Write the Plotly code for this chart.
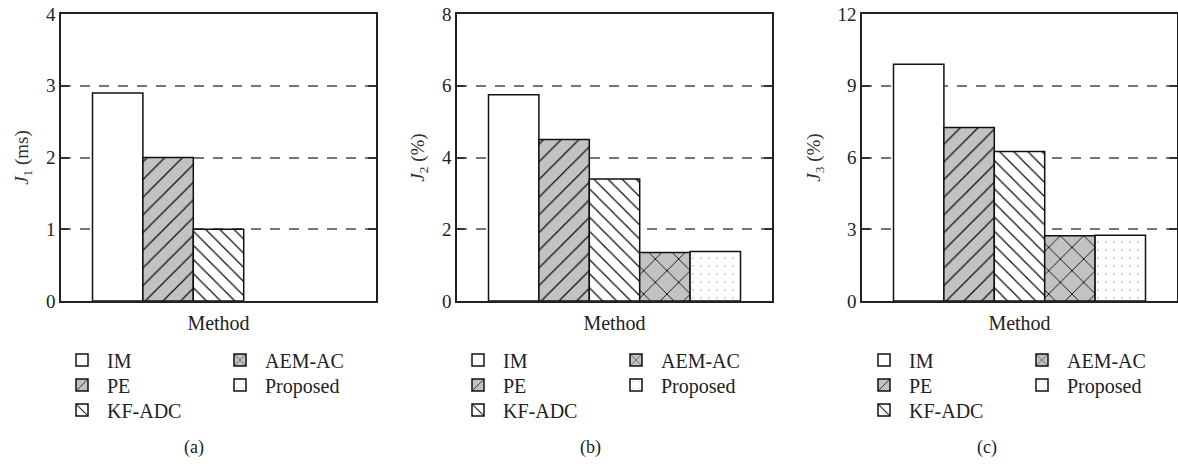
import plotly.graph_objects as go

methods = ["IM", "PE", "KF-ADC", "AEM-AC", "Proposed"]
j1_ms = [2.9, 2.0, 1.0, None, None]
j2_pct = [5.75, 4.5, 3.4, 1.35, 1.38]
j3_pct = [9.9, 7.25, 6.25, 2.73, 2.75]
category = ["Method"]

panels = [
    dict(vals=j1_ms, ytitle="<i>J</i><sub>1</sub> (ms)", yrange=[0, 4], dtick=1, caption="(a)"),
    dict(vals=j2_pct, ytitle="<i>J</i><sub>2</sub> (%)", yrange=[0, 8], dtick=2, caption="(b)"),
    dict(vals=j3_pct, ytitle="<i>J</i><sub>3</sub> (%)", yrange=[0, 12], dtick=3, caption="(c)"),
]

GRAY = "#c2c2c2"
styles = {
    "IM": dict(color="white", pattern=dict(shape="")),
    "PE": dict(color=GRAY, pattern=dict(shape="/", size=12.5, solidity=0.1, fgcolor="#111", bgcolor=GRAY, fillmode="replace")),
    "KF-ADC": dict(color="white", pattern=dict(shape="\\", size=10, solidity=0.13, fgcolor="#111", bgcolor="white", fillmode="replace")),
    "AEM-AC": dict(color=GRAY, pattern=dict(shape="x", size=16.5, solidity=0.1, fgcolor="#000", bgcolor=GRAY, fillmode="replace")),
    "Proposed": dict(color="white", pattern=dict(shape=".", size=8, solidity=0.025, fgcolor="#999", bgcolor="white", fillmode="replace")),
}
# legend grid cell (column, row) of each method
legend_cell = {"IM": (0, 0), "PE": (0, 1), "KF-ADC": (0, 2), "AEM-AC": (1, 0), "Proposed": (1, 1)}

W, H = 1178, 466
x_domains_px = [(61, 376), (457, 772), (862, 1177)]
y_dom = [(H - 301) / H, (H - 14) / H]
legend_x_px = [(57, 215), (453, 611), (859, 1017)]
legend_row_px = [360, 385, 410]
caption_x_px = [194, 590, 987]

fig = go.Figure()
font_family = "Liberation Serif"
k = 0
for i, p in enumerate(panels):
    xa = "x" if i == 0 else f"x{i+1}"
    ya = "y" if i == 0 else f"y{i+1}"
    for m, v in zip(methods, p["vals"]):
        st = styles[m]
        lg = "legend" if k == 0 else f"legend{k+1}"
        k += 1
        fig.add_trace(go.Bar(
            x=category, y=[v], name=m, xaxis=xa, yaxis=ya, legend=lg,
            marker=dict(color=st["color"], pattern=st["pattern"], line=dict(color="#111", width=1.5)),
            hoverinfo="name+y",
        ))
        col, row = legend_cell[m]
        fig.layout[lg] = dict(
            x=legend_x_px[i][col] / W, y=(H - legend_row_px[row]) / H, xanchor="left", yanchor="middle",
            orientation="v", font=dict(size=20, family=font_family, color="#222"),
            bgcolor="rgba(0,0,0,0)", itemwidth=40,
        )
    axn = "" if i == 0 else str(i + 1)
    d0, d1 = x_domains_px[i]
    fig.layout["xaxis" + axn] = dict(
        domain=[d0 / W, d1 / W], anchor=ya, showticklabels=False, ticks="",
        showline=True, linecolor="#222", linewidth=1.5, mirror=True, showgrid=False,
        title=dict(text="Method", font=dict(size=20, family=font_family, color="#222"), standoff=14),
        fixedrange=True,
    )
    fig.layout["yaxis" + axn] = dict(
        domain=y_dom, anchor=xa, range=p["yrange"], dtick=p["dtick"], tick0=0,
        showline=True, linecolor="#222", linewidth=1.5, mirror="ticks",
        ticks="inside", ticklen=8, tickcolor="#333", tickwidth=1.5,
        showgrid=True, gridcolor="#777", gridwidth=1.5, griddash="10px,9px",
        zeroline=False,
        tickfont=dict(size=19, family=font_family, color="#222"),
        title=dict(text=p["ytitle"], font=dict(size=19, family=font_family, color="#333"), standoff=12),
    )
    fig.add_annotation(
        text=p["caption"], x=caption_x_px[i] / W, y=(H - 447) / H, xref="paper", yref="paper",
        showarrow=False, font=dict(size=18, family=font_family, color="#222"),
        xanchor="center", yanchor="middle",
    )

fig.update_layout(
    width=W, height=H, margin=dict(l=0, r=0, t=0, b=0, autoexpand=False),
    paper_bgcolor="white", plot_bgcolor="white",
    barmode="group", bargap=0.2, bargroupgap=0,
    font=dict(family=font_family, size=19, color="#222"),
    showlegend=True,
)
fig.write_html("out.html")
